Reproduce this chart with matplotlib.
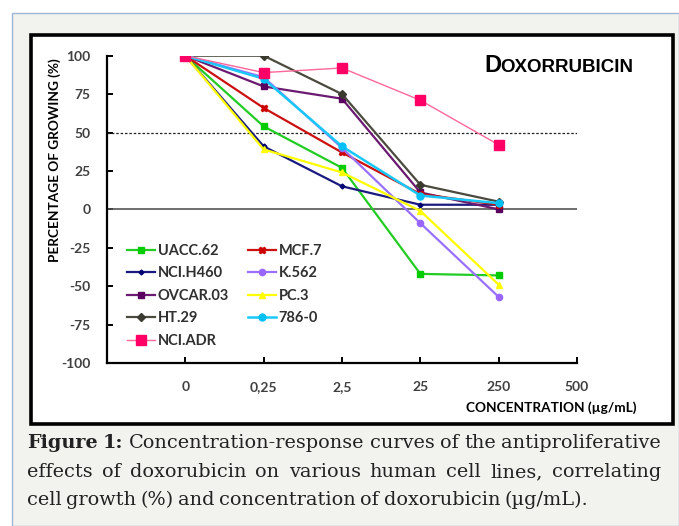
import matplotlib
matplotlib.use("Agg")
import matplotlib.pyplot as plt
from matplotlib.patches import Rectangle

plt.rcParams["axes.unicode_minus"] = False

W, H = 679, 526

# data
conc_labels = ["0", "0,25", "2,5", "25", "250", "500"]
uacc62 = [100, 54, 27, -42, -43]
nci_h460 = [100, 41, 15, 3, 3]
ovcar03 = [100, 80, 72, 11, 0]
ht29 = [100, 100, 75, 16, 5]
nci_adr = [100, 89, 92, 71, 42]
mcf7 = [100, 66, 37, 10, 3]
k562 = [100, 86, 40, -9, -57]
pc3 = [100, 39, 24, -1, -49]
c786 = [100, 85, 41, 9, 4]

series = [
    # name, values, line colour, marker colour, marker, size, linewidth
    ("UACC.62", uacc62, "#22cc22", "#00cc00", "s", 5, 1.6),
    ("NCI.H460", nci_h460, "#1a1a80", "#000070", "D", 2.5, 1.6),
    ("OVCAR.03", ovcar03, "#6a1a70", "#5a0060", "s", 5, 1.6),
    ("HT.29", ht29, "#4a4a3e", "#3a3a30", "D", 4, 1.6),
    ("MCF.7", mcf7, "#cc1111", "#cc0000", "X", 5, 1.6),
    ("K.562", k562, "#9a70ff", "#9966ff", "o", 4.5, 1.6),
    ("PC.3", pc3, "#ffff00", "#ffff00", "^", 5, 1.6),
    ("786-0", c786, "#18c8f8", "#00c0f8", "o", 5, 1.8),
    ("NCI.ADR", nci_adr, "#ff6699", "#ff0066", "s", 7, 1.0),
]
legend_order = ["UACC.62", "NCI.H460", "OVCAR.03", "HT.29", "NCI.ADR",
                "MCF.7", "K.562", "PC.3", "786-0"]

fig = plt.figure(figsize=(W / 100, H / 100), dpi=100)
fig.patch.set_facecolor("white")

def px(x, y):
    return x / W, 1 - y / H

# grey page panel with the thin blue edge
fig.patches.append(Rectangle(px(12, H), (W - 12) / W, (H - 13) / H,
                             transform=fig.transFigure, facecolor="#f2f2ee",
                             edgecolor="#9fb6d6", lw=1.0, zorder=0))
# white chart box with thick black frame
fig.patches.append(Rectangle(px(31, 424), (673 - 31) / W, (424 - 35) / H,
                             transform=fig.transFigure, facecolor="white",
                             edgecolor="black", lw=2.6, zorder=1))

ax = fig.add_axes([107 / W, 1 - 363 / H, (577 - 107) / W, (363 - 55.7) / H])
ax.set_facecolor("none")
ax.set_zorder(2)

xs = list(range(len(uacc62)))
handles = {}
for name, vals, lc, mc, mk, ms, lw in series:
    ln, = ax.plot(xs, vals, color=lc, lw=lw, marker=mk, markersize=ms,
                  markerfacecolor=mc, markeredgecolor=mc, label=name,
                  zorder=3)
    handles[name] = ln

ax.axhline(0, color="#555555", lw=1.2, zorder=2)
ax.axhline(50, color="#222222", lw=0.9, ls=(0, (2, 1.5)), zorder=2)

ax.set_xlim(-1, 5)
ax.set_ylim(-100, 100)
ax.set_xticks(range(len(conc_labels)))
ax.set_xticklabels(conc_labels)
ax.set_yticks(range(-100, 101, 25))
for s in ["top", "right"]:
    ax.spines[s].set_visible(False)
for s in ["left", "bottom"]:
    ax.spines[s].set_linewidth(1.6)
    ax.spines[s].set_color("black")
ax.tick_params(axis="both", direction="in", length=4, width=1.4,
               colors="black", labelcolor="#404040", labelsize=10)
ax.tick_params(axis="y", pad=12)
ax.tick_params(axis="x", pad=13)
for lab in ax.get_xticklabels() + ax.get_yticklabels():
    lab.set_fontfamily("Lato")
    lab.set_fontweight("bold")

leg = ax.legend([handles[n] for n in legend_order], legend_order, ncol=2,
                loc="upper left", bbox_to_anchor=(0.015, 0.43), frameon=False,
                handlelength=1.9, handletextpad=0.2, columnspacing=1.3,
                labelspacing=0.58, borderaxespad=0.5,
                prop={"family": "Lato", "weight": "bold", "size": 10.5})
for t in leg.get_texts():
    t.set_color("#303030")

# title and axis labels
fig.text(*px(484, 72), "D", fontsize=17, fontweight="bold",
         family="Liberation Sans", color="black", va="baseline")
fig.text(*px(500, 72), "OXORRUBICIN", fontsize=13.5, fontweight="bold",
         family="Liberation Sans", color="black", va="baseline")
fig.text(*px(55, 160), "PERCENTAGE OF GROWING (%)", rotation=90,
         fontsize=9.8, fontweight="bold", family="Lato", color="black",
         ha="center", va="center")
fig.text(*px(637, 408), "CONCENTRATION (µg/mL)", fontsize=9.8,
         fontweight="bold", family="Lato", color="black",
         ha="right", va="center")

# caption, justified like the journal page
cap_lines = [
    "Figure 1: Concentration-response curves of the antiproliferative",
    "effects of doxorubicin on various human cell lines, correlating",
    "cell growth (%) and concentration of doxorubicin (µg/mL).",
]
cap_y = [443, 472, 500]
renderer = fig.canvas.get_renderer()
for i, line in enumerate(cap_lines):
    words = line.split(" ")
    texts = []
    for j, w in enumerate(words):
        bold = i == 0 and j < 2
        t = fig.text(0, 1 - cap_y[i] / H, w, fontsize=13.9,
                     family="DejaVu Serif", color="#222222",
                     fontweight="bold" if bold else "normal", va="center")
        texts.append(t)
    widths = [t.get_window_extent(renderer).width for t in texts]
    if i < 2:
        gap = (661 - 27 - sum(widths)) / (len(words) - 1)
    else:
        gap = texts[0].get_fontsize() * 0.32
    x = 27
    for t, w in zip(texts, widths):
        t.set_x(x / W)
        x += w + gap

fig.savefig("out.png", dpi=100)
